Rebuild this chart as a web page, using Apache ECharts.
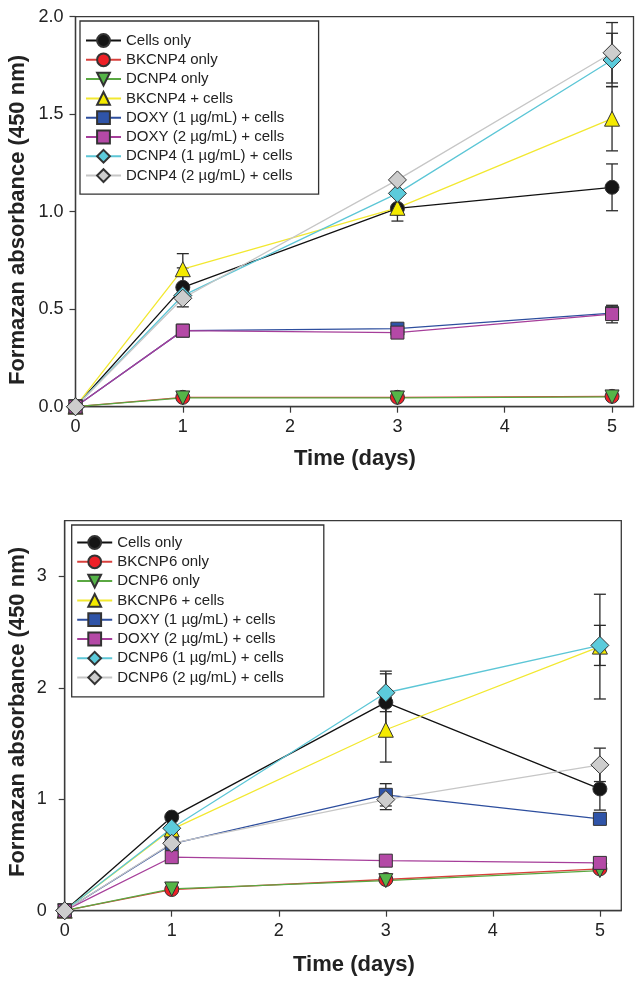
<!DOCTYPE html>
<html>
<head>
<meta charset="utf-8">
<script src="https://cdn.jsdelivr.net/npm/echarts@6/dist/echarts.min.js"></script>
<style>
  html, body { margin: 0; padding: 0; background: #fff; }
  #c1 { position: absolute; left: 0; top: 0; width: 643px; height: 480px; }
  #c2 { position: absolute; left: 0; top: 480px; width: 643px; height: 505px; }
</style>
</head>
<body>
<div id="c1"></div>
<div id="c2"></div>
<script>
// ---------- DATA ----------
const xDays = [0, 1, 3, 5];
const xTicks = [0, 1, 2, 3, 4, 5];
const yTicksTop = [0, 0.5, 1.0, 1.5, 2.0];
const yTicksBottom = [0, 1, 2, 3];

const namesTop = ['Cells only', 'BKCNP4 only', 'DCNP4 only', 'BKCNP4 + cells',
  'DOXY (1 µg/mL) + cells', 'DOXY (2 µg/mL) + cells',
  'DCNP4 (1 µg/mL) + cells', 'DCNP4 (2 µg/mL) + cells'];
const namesBottom = ['Cells only', 'BKCNP6 only', 'DCNP6 only', 'BKCNP6 + cells',
  'DOXY (1 µg/mL) + cells', 'DOXY (2 µg/mL) + cells',
  'DCNP6 (1 µg/mL) + cells', 'DCNP6 (2 µg/mL) + cells'];

// Top panel (DCNP4) means
const cellsTop     = [0, 0.612, 1.017, 1.125];
const bkOnlyTop    = [0, 0.048, 0.048, 0.053];
const dcOnlyTop    = [0, 0.045, 0.045, 0.050];
const bkCellsTop   = [0, 0.705, 1.020, 1.477];
const doxy1Top     = [0, 0.390, 0.400, 0.480];
const doxy2Top     = [0, 0.390, 0.380, 0.475];
const dc1Top       = [0, 0.570, 1.094, 1.778];
const dc2Top       = [0, 0.556, 1.163, 1.815];
// Top panel error (±)
const cellsTopErr   = [0, 0.10, 0.065, 0.12];
const bkCellsTopErr = [0, 0.08, 0, 0.165];
const doxy2TopErr   = [0, 0, 0, 0.045];
const dc1TopErr     = [0, 0, 0, 0.137];
const dc2TopErr     = [0, 0, 0, 0.155];

// Bottom panel (DCNP6) means
const cellsBot     = [0, 0.840, 1.870, 1.093];
const bkOnlyBot    = [0, 0.190, 0.280, 0.375];
const dcOnlyBot    = [0, 0.195, 0.270, 0.360];
const bkCellsBot   = [0, 0.730, 1.624, 2.370];
const doxy1Bot     = [0, 0.600, 1.040, 0.824];
const doxy2Bot     = [0, 0.480, 0.449, 0.429];
const dc1Bot       = [0, 0.740, 1.956, 2.381];
const dc2Bot       = [0, 0.605, 0.997, 1.309];
// Bottom panel error (±)
const cellsBotErr   = [0, 0, 0.28, 0.19];
const bkCellsBotErr = [0, 0, 0.29, 0.47];
const doxy1BotErr   = [0, 0, 0.10, 0];
const dc1BotErr     = [0, 0, 0.17, 0.18];
const dc2BotErr     = [0, 0, 0.09, 0.15];

// ---------- STYLE ----------
const lineColors = ['#111111', '#d8403c', '#5aa842', '#f2e830', '#2d4e9e', '#a63e9a', '#5cc6d6', '#c6c6c6'];
const fillColors = ['#151515', '#ee2027', '#55b548', '#f4ea00', '#2f54a8', '#b449a6', '#5ccbdb', '#cdcdcd'];
const symbols    = ['circle', 'circle', 'triangle', 'triangle', 'rect', 'rect', 'diamond', 'diamond'];
const symRotate  = [0, 0, 180, 0, 0, 0, 0, 0];
const symSizes   = [14, 14, 14, 15, 13, 13, 18, 18];
const FONT = "'Liberation Sans', Arial, Helvetica, sans-serif";

function errData(means, errs) {
  const out = [];
  means.forEach((m, i) => {
    if (errs[i] > 0) out.push([xDays[i], m - errs[i], m + errs[i]]);
  });
  return out;
}

function errSeries(data) {
  return {
    type: 'custom',
    z: 1,
    silent: true,
    renderItem: function (params, api) {
      const x = api.value(0), lo = api.value(1), hi = api.value(2);
      const p1 = api.coord([x, lo]);
      const p2 = api.coord([x, hi]);
      const hw = 6;
      const st = { stroke: '#2a2a2a', lineWidth: 1.3 };
      return {
        type: 'group',
        children: [
          { type: 'line', shape: { x1: p1[0], y1: p1[1], x2: p2[0], y2: p2[1] }, style: st },
          { type: 'line', shape: { x1: p1[0] - hw, y1: p1[1], x2: p1[0] + hw, y2: p1[1] }, style: st },
          { type: 'line', shape: { x1: p2[0] - hw, y1: p2[1], x2: p2[0] + hw, y2: p2[1] }, style: st }
        ]
      };
    },
    encode: { x: 0, y: [1, 2] },
    data: data
  };
}

function buildOption(cfg) {
  const series = [];
  series.push(errSeries(cfg.errs));
  cfg.values.forEach((vals, i) => {
    series.push({
      name: cfg.names[i],
      type: 'line',
      z: 2,
      data: vals.map((v, k) => [xDays[k], v]),
      symbol: symbols[i],
      symbolRotate: symRotate[i],
      symbolSize: symSizes[i],
      showAllSymbol: true,
      lineStyle: { color: lineColors[i], width: 1.3 },
      itemStyle: { color: fillColors[i], borderColor: '#333', borderWidth: 1 },
      emphasis: { disabled: true }
    });
  });
  return {
    animation: false,
    backgroundColor: '#fff',
    grid: {
      left: cfg.grid.left, top: cfg.grid.top, width: cfg.grid.width, height: cfg.grid.height,
      show: true, borderColor: '#3a3a3a', borderWidth: 1.3, backgroundColor: 'transparent'
    },
    legend: {
      data: cfg.names,
      orient: 'vertical',
      left: cfg.legend.left, top: cfg.legend.top,
      padding: cfg.legend.padding,
      itemWidth: 35, itemHeight: 16, itemGap: 4.3,
      borderColor: '#333', borderWidth: 1.3,
      selectedMode: false,
      textStyle: { fontFamily: FONT, fontSize: 15, color: '#222' }
    },
    xAxis: {
      type: 'value', min: 0, max: 5.2,
      axisLine: { show: true, lineStyle: { color: '#3a3a3a', width: 1.3 } },
      axisTick: { show: true, inside: false, length: 6, customValues: xTicks, lineStyle: { color: '#3a3a3a', width: 1.2 } },
      axisLabel: { customValues: xTicks, margin: 11, fontFamily: FONT, fontSize: 18, color: '#222' },
      splitLine: { show: false }
    },
    yAxis: {
      type: 'value', min: 0, max: cfg.ymax,
      axisLine: { show: true, lineStyle: { color: '#3a3a3a', width: 1.3 } },
      axisTick: { show: true, inside: false, length: 6, customValues: cfg.yTicks, lineStyle: { color: '#3a3a3a', width: 1.2 } },
      axisLabel: { customValues: cfg.yTicks, margin: cfg.ylabelMargin, fontFamily: FONT, fontSize: 18, color: '#222',
                   formatter: cfg.yFmt },
      splitLine: { show: false }
    },
    graphic: [
      { type: 'text', x: cfg.yTitle[0], y: cfg.yTitle[1], rotation: Math.PI / 2,
        style: { text: 'Formazan absorbance (450 nm)', font: "bold 22px " + FONT, fill: '#222',
                 textAlign: 'center', textVerticalAlign: 'middle' } },
      { type: 'text', x: cfg.xTitle[0], y: cfg.xTitle[1],
        style: { text: 'Time (days)', font: "bold 22px " + FONT, fill: '#222',
                 textAlign: 'center', textVerticalAlign: 'middle' } }
    ],
    series: series
  };
}

const topErrs = [].concat(
  errData(cellsTop, cellsTopErr), errData(bkCellsTop, bkCellsTopErr),
  errData(doxy2Top, doxy2TopErr), errData(dc1Top, dc1TopErr), errData(dc2Top, dc2TopErr));
const botErrs = [].concat(
  errData(cellsBot, cellsBotErr), errData(bkCellsBot, bkCellsBotErr),
  errData(doxy1Bot, doxy1BotErr), errData(dc1Bot, dc1BotErr), errData(dc2Bot, dc2BotErr));

const chart1 = echarts.init(document.getElementById('c1'));
chart1.setOption(buildOption({
  names: namesTop,
  values: [cellsTop, bkOnlyTop, dcOnlyTop, bkCellsTop, doxy1Top, doxy2Top, dc1Top, dc2Top],
  errs: topErrs,
  grid: { left: 75.5, top: 16.7, width: 558, height: 390 },
  legend: { left: 80, top: 21, padding: [12, 26, 11, 5] },
  ymax: 2, yTicks: yTicksTop, ylabelMargin: 12,
  yFmt: v => v.toFixed(1),
  yTitle: [17.5, 220], xTitle: [355, 459]
}));

const chart2 = echarts.init(document.getElementById('c2'));
chart2.setOption(buildOption({
  names: namesBottom,
  values: [cellsBot, bkOnlyBot, dcOnlyBot, bkCellsBot, doxy1Bot, doxy2Bot, dc1Bot, dc2Bot],
  errs: botErrs,
  grid: { left: 64.7, top: 40.7, width: 556.6, height: 390 },
  legend: { left: 71.7, top: 45, padding: [10, 40, 11.7, 4.5] },
  ymax: 3.5, yTicks: yTicksBottom, ylabelMargin: 18,
  yFmt: v => String(v),
  yTitle: [17.5, 232], xTitle: [354, 485]
}));
</script>
</body>
</html>
